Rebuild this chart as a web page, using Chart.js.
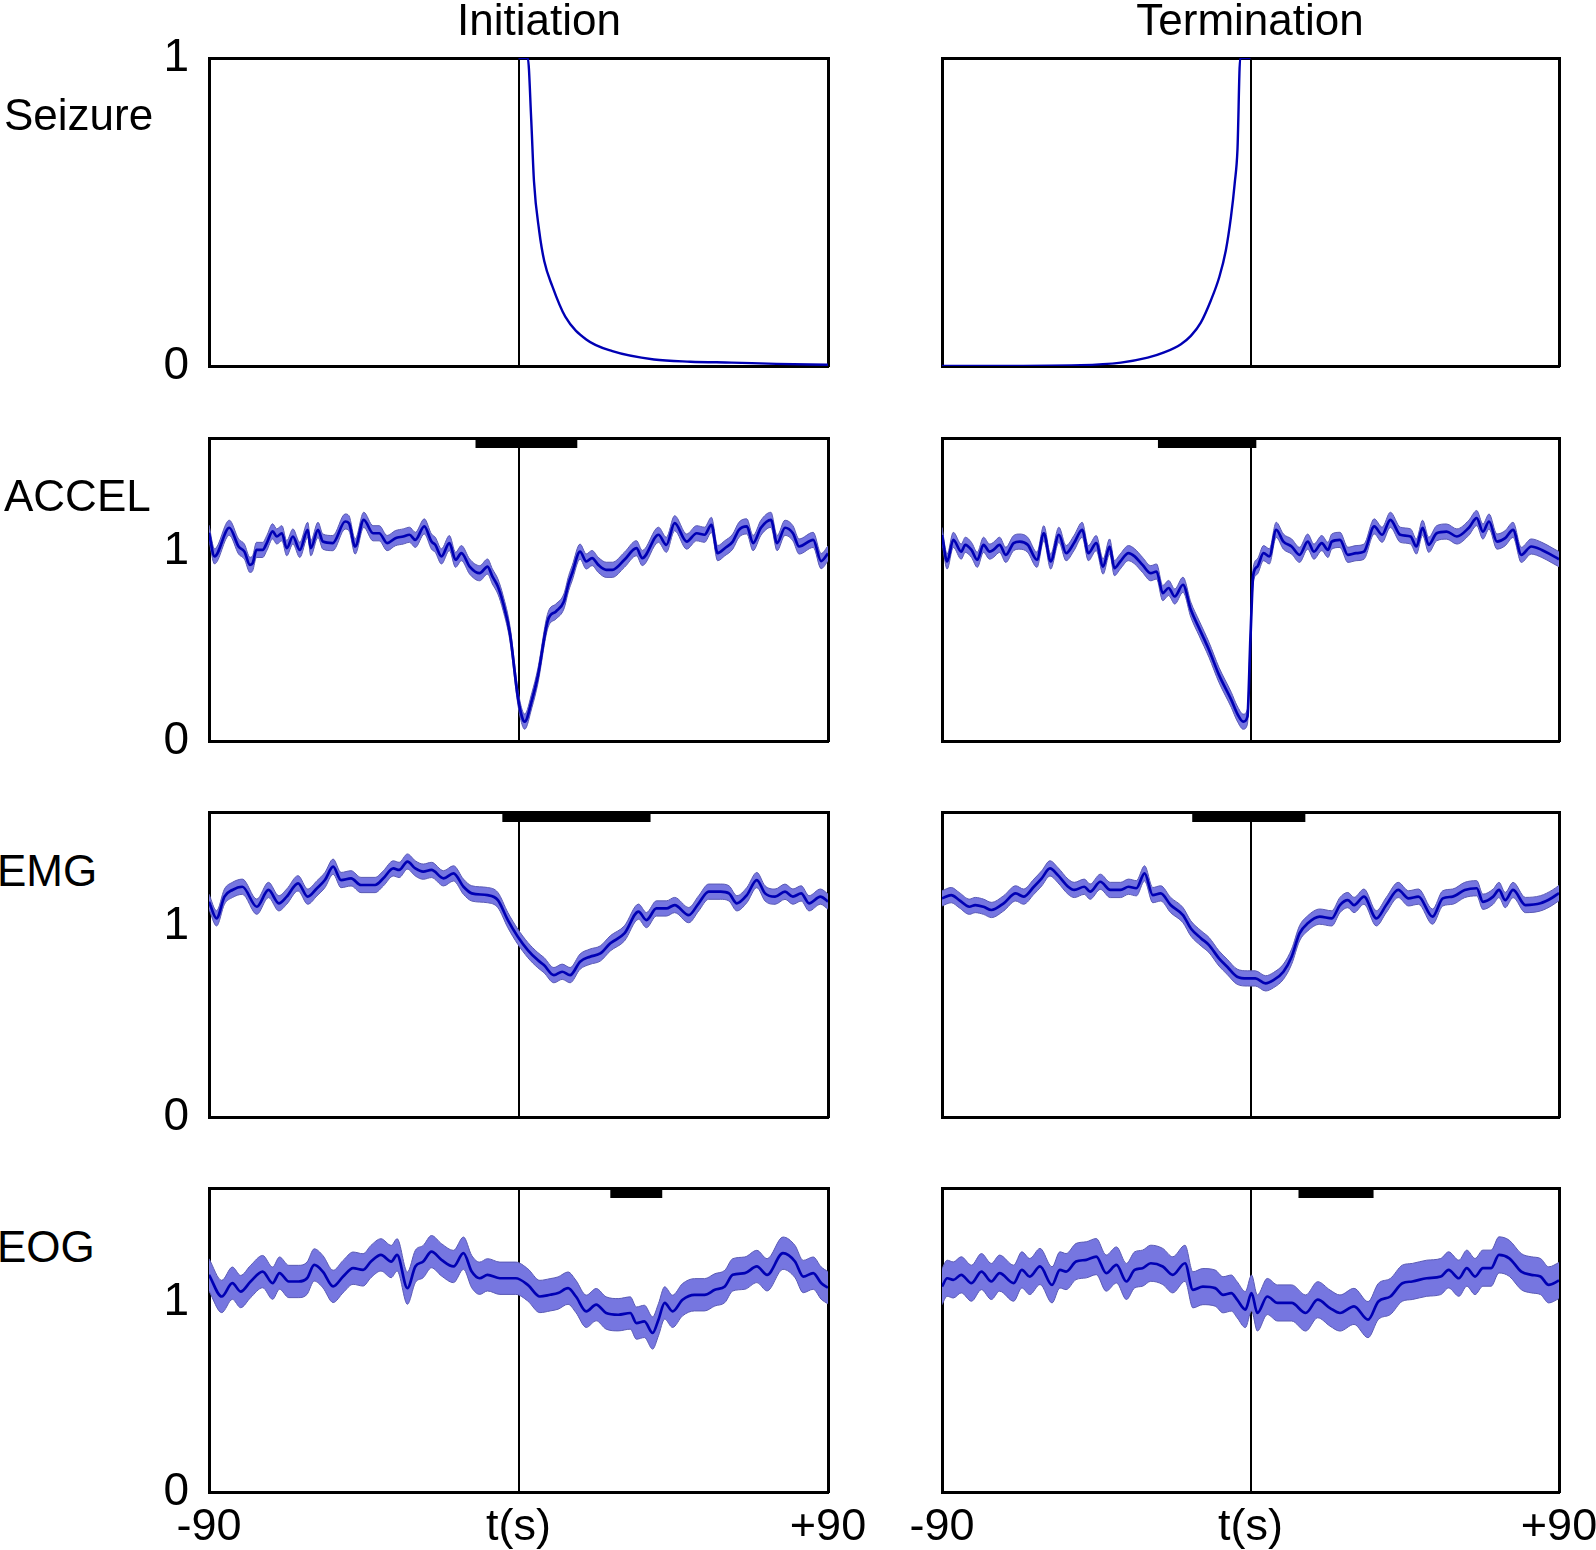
<!DOCTYPE html>
<html>
<head>
<meta charset="utf-8">
<script src="https://cdn.jsdelivr.net/npm/chart.js@4.4.0/dist/chart.umd.min.js"></script>
<style>
html, body { margin: 0; padding: 0; background: #fff; }
#page { position: relative; width: 1596px; height: 1550px; overflow: hidden; background: #fff;
        font-family: 'Liberation Sans', Arial, Helvetica, sans-serif; }
#page canvas { position: absolute; }
.lbl { position: absolute; font-size: 44px; line-height: 44px; color: #000; white-space: nowrap; z-index: 5; }
.ttl { transform: translateX(-50%); }
</style>
</head>
<body>
<div id="page">
  <div class="lbl ttl" style="left:539px; top:-2px;">Initiation</div>
  <div class="lbl ttl" style="left:1250px; top:-2px;">Termination</div>
  <div class="lbl" style="left:4px; top:93px;">Seizure</div>
  <div class="lbl" style="left:4px; top:474px;">ACCEL</div>
  <div class="lbl" style="left:-3px; top:849px;">EMG</div>
  <div class="lbl" style="left:-3px; top:1225px;">EOG</div>
</div>
<script>
// ---------------- data ----------------
const xTickValues = [-90, 0, 90];
const xTickLabels = ['-90', 't(s)', '+90'];
const yTickValues = [0, 1];
const yTickLabels = ['0', '1'];

// Seizure probability
const seizureInitT = [0, 2.7, 3.7, 4.5, 6, 7.5, 9.8, 13.6, 19.7, 27.3, 39.4, 50, 62, 75, 90];
const seizureInitV = [1, 1, 0.8, 0.6, 0.44, 0.34, 0.26, 0.16, 0.086, 0.048, 0.021, 0.014, 0.011, 0.007, 0.004];
const seizureTermT = [-90, -49.5, -37.8, -30, -25.2, -20.3, -17.4, -14.5, -11.6, -9.1, -7.2, -5.7, -4.6, -3.8, -3.0, 0];
const seizureTermV = [0, 0.003, 0.011, 0.027, 0.044, 0.071, 0.098, 0.141, 0.212, 0.289, 0.375, 0.484, 0.594, 0.703, 1, 1];

// ACCEL
const accelInitT = [-90,-88.4,-84.1,-81.4,-79.7,-78.1,-77.3,-76.2,-74.4,-73.2,-71.5,-70.3,-68.8,-67.4,-65.6,-63.6,-61.3,-60.4,-58.3,-56.9,-54,-50.4,-49.3,-47.5,-45,-42.3,-40.5,-38.2,-35.8,-33.5,-31.7,-30,-27.4,-25.3,-24.2,-22.4,-20.1,-18.3,-16.6,-14.2,-11.3,-9,-7.6,-6,-4.5,-2.5,-0.2,1,1.8,3.9,5.6,8.6,10.9,13.2,14.6,15.6,17.9,19.7,21.4,23.2,25.5,27.3,30.8,34.3,36,40.7,43,45.4,48.9,51.8,54.1,56.1,57.9,60,62.3,64.1,66.4,68.2,70.5,73.4,75.2,77.5,79.8,81.6,85.7,88,90];
const accelInitMean = [1.10,0.975,1.126,1.027,1.0,0.93,0.939,1.009,1.009,1.045,1.107,1.08,1.097,1.018,1.08,1.009,1.115,1.018,1.115,1.053,1.045,1.159,1.15,1.027,1.168,1.097,1.097,1.045,1.071,1.08,1.089,1.062,1.133,1.053,1.036,0.975,1.045,0.957,0.992,0.921,0.886,0.921,0.869,0.816,0.73,0.569,0.234,0.128,0.102,0.216,0.34,0.64,0.684,0.737,0.834,0.886,1.0,0.948,0.966,0.93,0.904,0.904,0.957,1.018,0.966,1.089,1.036,1.15,1.053,1.097,1.089,1.141,0.992,1.018,1.053,1.115,1.133,1.045,1.126,1.168,1.045,1.126,1.097,1.027,1.062,0.95,0.99];
const accelTermT = [-90,-88.5,-86.7,-84.4,-83.2,-81.4,-79.7,-77.9,-76.1,-75,-73.2,-71.4,-69.1,-67.3,-65,-62.3,-60.3,-58.3,-55.9,-53.8,-51.5,-49.1,-47.3,-45,-43,-41.1,-39.7,-38,-35.6,-33.8,-31.5,-29.1,-27.4,-25.6,-23.9,-22.1,-19.7,-17.4,-15,-12.1,-9.2,-5.6,-3.9,-2.1,-0.9,0,0.8,2,3.8,5.5,7.5,9.6,12,14.3,16.7,18.5,20.8,22.6,23.7,26.1,28.4,30.8,33.1,36.1,38.4,40.8,43.7,46.7,48.4,50.2,52,54.3,57.2,60.2,63.7,66,67.8,69.6,71.9,74.3,76.6,79,81.9,85,88,90];
const accelTermMean = [1.088,0.948,1.062,1.0,1.036,1.009,0.957,1.036,1.0,1.009,1.036,0.983,1.045,1.053,1.036,0.957,1.097,0.948,1.089,0.992,1.045,1.115,0.992,1.045,0.921,1.027,0.913,0.948,0.992,0.975,0.93,0.886,0.895,0.781,0.808,0.763,0.825,0.693,0.596,0.481,0.349,0.217,0.146,0.102,0.128,0.551,0.877,0.921,0.992,0.975,1.115,1.053,1.027,0.983,1.053,1.0,1.045,1.009,1.053,1.062,0.983,0.992,1.0,1.133,1.089,1.168,1.089,1.08,1.027,1.126,1.036,1.097,1.106,1.08,1.126,1.177,1.106,1.159,1.053,1.071,1.115,0.983,1.027,1.009,0.98,0.96];

// EMG
const emgInitT = [-90,-87.8,-85.5,-83.2,-80.3,-76.1,-72.7,-69.7,-67.4,-64.1,-61.3,-58.6,-56.3,-53.9,-51.6,-48.7,-45.8,-41.7,-39.3,-36.4,-34.7,-32.3,-30,-27.7,-25.3,-21.8,-18.9,-16,-13.6,-9,-6,-3.1,-0.2,2.7,5.6,7.4,10.3,12.7,15,17.9,20.8,23.8,26.7,30.8,34.9,37.2,40.1,43,45.4,49.5,52.4,55.3,58.8,61.2,63.5,66.4,69.3,71.7,74.6,77.5,79.8,82.2,84.5,87.8,90];
const emgInitMean = [1.129,1.042,1.156,1.191,1.208,1.103,1.191,1.121,1.156,1.226,1.156,1.2,1.243,1.313,1.243,1.252,1.217,1.217,1.252,1.304,1.296,1.34,1.304,1.287,1.296,1.252,1.278,1.208,1.173,1.164,1.138,1.033,0.946,0.876,0.823,0.797,0.744,0.762,0.744,0.815,0.841,0.858,0.911,0.963,1.077,1.033,1.094,1.094,1.112,1.059,1.121,1.182,1.182,1.173,1.121,1.164,1.243,1.173,1.156,1.182,1.156,1.173,1.121,1.156,1.13];
const emgTermT = [-90,-87.3,-85,-82,-80.3,-77.9,-75.6,-72,-68.5,-66.2,-63.2,-60.9,-58.5,-56.2,-53.2,-51.4,-48.5,-46.8,-43.8,-40.9,-37.9,-35.6,-33.3,-30.9,-28.5,-26.2,-23.3,-19.7,-17.4,-14.4,-12.1,-9.2,-6.8,-3.9,-0.9,1.4,4.4,6.7,9.6,12,14.3,16.7,20.2,23.7,26.1,28.4,30.2,33.1,36.7,39.6,43.1,46.1,49,53.1,56.1,59,62.5,66,67.8,70.8,72.5,74.3,76.6,80.2,84.6,88,90];
const emgTermMean = [1.147,1.164,1.138,1.103,1.112,1.103,1.086,1.121,1.173,1.156,1.208,1.252,1.304,1.269,1.208,1.191,1.208,1.182,1.234,1.191,1.191,1.208,1.2,1.278,1.164,1.173,1.112,1.059,0.989,0.937,0.902,0.832,0.788,0.736,0.727,0.727,0.701,0.718,0.762,0.841,0.963,1.016,1.051,1.042,1.112,1.138,1.112,1.156,1.042,1.112,1.191,1.147,1.156,1.051,1.147,1.156,1.191,1.2,1.129,1.156,1.191,1.138,1.191,1.112,1.121,1.15,1.175];

// EOG
const eogInitT = [-90,-86.3,-83.2,-80.8,-77.9,-74.4,-71.5,-69.5,-66.8,-63.9,-61.5,-59.4,-56.9,-53.9,-51,-48.1,-45.2,-42.9,-40,-37,-35.3,-32.3,-30,-27.7,-25.3,-22.4,-18.9,-16,-13.6,-11.3,-9,-5.4,-0.8,2.7,6.2,9.2,11.5,14.4,16.7,19.7,22.6,25.5,29,32.5,34.3,36.6,39,40.7,42.5,44.8,47.7,51.2,54.1,57.1,60,62.3,65.8,69.3,72.3,76.9,80.4,82.8,85.7,88,90];
const eogInitMean = [1.143,1.029,1.099,1.055,1.108,1.16,1.099,1.152,1.108,1.108,1.125,1.195,1.16,1.082,1.134,1.178,1.169,1.213,1.248,1.213,1.248,1.073,1.187,1.213,1.265,1.222,1.187,1.257,1.16,1.125,1.143,1.125,1.125,1.09,1.029,1.038,1.047,1.073,1.029,0.951,0.986,0.942,0.933,0.942,0.889,0.898,0.837,0.907,0.995,0.951,1.012,1.038,1.038,1.064,1.082,1.143,1.152,1.187,1.143,1.257,1.213,1.134,1.152,1.1,1.075];
const eogTermT = [-90,-88.5,-86.7,-84.4,-81.4,-78.5,-75.6,-73.2,-69.1,-66.7,-64.4,-61.4,-57.9,-55.6,-53.8,-50.9,-47.9,-45,-42.1,-39.1,-36.2,-33.8,-31.5,-29.1,-25.6,-22.7,-19.1,-16.8,-13.9,-10.3,-8,-5.6,-3.9,-1.5,0.3,2,4.9,7.9,12,16.1,19.6,23.2,26.1,30.2,34.3,37.3,40.8,44.3,47.2,51.4,55.5,57.8,60.8,63.1,65.5,67.8,70.2,72.5,75.5,79,81.9,84.6,87,90];
const eogTermMean = [1.081,1.125,1.116,1.143,1.099,1.16,1.108,1.152,1.099,1.169,1.134,1.187,1.09,1.169,1.16,1.213,1.222,1.239,1.152,1.195,1.108,1.169,1.178,1.204,1.187,1.143,1.204,1.064,1.081,1.073,1.038,1.047,1.012,0.96,1.047,0.942,1.029,0.995,0.995,0.942,1.012,0.968,0.942,0.977,0.907,1.003,1.029,1.099,1.108,1.125,1.134,1.169,1.125,1.178,1.134,1.178,1.178,1.248,1.23,1.16,1.143,1.134,1.09,1.113];

// SEM half-widths of the shaded bands
const semAccel = 0.04;
const semEmg = 0.04;
const semEogInit = 0.085;
const semEogTerm = 0.095;

// significance bars [start, end] in seconds
const sigAccelInit = [-12.5, 17.1];
const sigAccelTerm = [-27, 1.7];
const sigEmgInit = [-4.7, 38.4];
const sigEmgTerm = [-17, 16];
const sigEogInit = [26.7, 41.8];
const sigEogTerm = [14, 35.9];

// ---------------- layout & style ----------------
const COLS = [{ left: 209, width: 619 }, { left: 942, width: 617 }];
const ROWS = [{ top: 58, height: 308, yMax: 1 }, { top: 438, height: 303, yMax: 1.6 },
              { top: 812, height: 305, yMax: 1.6 }, { top: 1188, height: 304, yMax: 1.6 }];
const PAD = { left: 100, right: 70, top: 52, bottom: 52, bottomLast: 64 };
const MEAN_COLOR = 'rgb(0,0,180)';
const BAND_COLOR = 'rgb(118,118,224)';
const EDGE_COLOR = 'rgb(90,90,180)';
const BAR_PX = 10;

Chart.defaults.font.family = "'Liberation Sans', Arial, Helvetica, sans-serif";
Chart.defaults.color = '#000';

function pairs(ts, vs, off) {
  const n = Math.min(ts.length, vs.length);
  const out = [];
  for (let i = 0; i < n; i++) out.push({ x: ts[i], y: vs[i] + off });
  return out;
}

const page = document.getElementById('page');

function panel(row, col, spec) {
  const c = COLS[col], r = ROWS[row];
  const bottomPad = row === 3 ? PAD.bottomLast : PAD.bottom;
  const W = c.width + PAD.left + PAD.right;
  const H = r.height + PAD.top + bottomPad;
  const cv = document.createElement('canvas');
  cv.width = W; cv.height = H;
  cv.style.left = (c.left - PAD.left) + 'px';
  cv.style.top = (r.top - PAD.top) + 'px';
  cv.style.width = W + 'px'; cv.style.height = H + 'px';
  page.appendChild(cv);

  const common = { pointRadius: 0, cubicInterpolationMode: 'monotone' };
  const datasets = [];
  if (spec.sem != null) {
    datasets.push(Object.assign({ data: pairs(spec.t, spec.mean, spec.sem), borderColor: EDGE_COLOR, borderWidth: 1,
      backgroundColor: BAND_COLOR, fill: '+1', order: 3 }, common));
    datasets.push(Object.assign({ data: pairs(spec.t, spec.mean, -spec.sem), borderColor: EDGE_COLOR, borderWidth: 1,
      fill: false, order: 2 }, common));
  }
  datasets.push(Object.assign({ data: pairs(spec.t, spec.mean, 0), borderColor: MEAN_COLOR,
    borderWidth: spec.sem != null ? 2.7 : 2.4, fill: false, order: 1 }, common));
  if (spec.sig) {
    const barY = r.yMax - (BAR_PX / 2) * r.yMax / r.height;
    datasets.push({ data: [{ x: spec.sig[0], y: barY }, { x: spec.sig[1], y: barY }], borderColor: '#000',
      borderWidth: BAR_PX, borderCapStyle: 'butt', pointRadius: 0, fill: false, tension: 0, order: 0 });
  }

  new Chart(cv, {
    type: 'line',
    data: { datasets },
    options: {
      responsive: false, animation: false, devicePixelRatio: 1,
      events: [],
      plugins: { legend: { display: false }, tooltip: { enabled: false } },
      layout: { padding: 0 },
      scales: {
        x: {
          type: 'linear', position: 'bottom', min: -90, max: 90,
          afterBuildTicks: s => { s.ticks = xTickValues.map(v => ({ value: v })); },
          afterFit: s => { s.height = bottomPad; },
          ticks: { display: row === 3, autoSkip: false, maxRotation: 0, minRotation: 0,
                   callback: (v, i) => xTickLabels[i], font: { size: 45 }, color: '#000', padding: 9 },
          grid: { display: true, drawTicks: false, lineWidth: 2,
                  color: ctx => (ctx.tick && ctx.tick.value === 0) ? '#000' : 'rgba(0,0,0,0)' },
          border: { display: true, color: '#000', width: 3 }
        },
        y: {
          type: 'linear', position: 'left', min: 0, max: r.yMax,
          afterBuildTicks: s => { s.ticks = yTickValues.map(v => ({ value: v })); },
          afterFit: s => { s.width = PAD.left; },
          ticks: { display: col === 0, callback: (v, i) => yTickLabels[i], font: { size: 46 }, color: '#000', padding: 20 },
          grid: { display: false, drawTicks: false },
          border: { display: true, color: '#000', width: 3 }
        },
        x2: {
          type: 'linear', position: 'top', min: -90, max: 90,
          afterFit: s => { s.height = PAD.top; },
          ticks: { display: false }, grid: { display: false, drawTicks: false },
          border: { display: true, color: '#000', width: 3 }
        },
        y2: {
          type: 'linear', position: 'right', min: 0, max: r.yMax,
          afterFit: s => { s.width = PAD.right; },
          ticks: { display: false }, grid: { display: false, drawTicks: false },
          border: { display: true, color: '#000', width: 3 }
        }
      }
    }
  });
}

panel(0, 0, { t: seizureInitT, mean: seizureInitV });
panel(0, 1, { t: seizureTermT, mean: seizureTermV });
panel(1, 0, { t: accelInitT, mean: accelInitMean, sem: semAccel, sig: sigAccelInit });
panel(1, 1, { t: accelTermT, mean: accelTermMean, sem: semAccel, sig: sigAccelTerm });
panel(2, 0, { t: emgInitT, mean: emgInitMean, sem: semEmg, sig: sigEmgInit });
panel(2, 1, { t: emgTermT, mean: emgTermMean, sem: semEmg, sig: sigEmgTerm });
panel(3, 0, { t: eogInitT, mean: eogInitMean, sem: semEogInit, sig: sigEogInit });
panel(3, 1, { t: eogTermT, mean: eogTermMean, sem: semEogTerm, sig: sigEogTerm });
</script>
</body>
</html>
